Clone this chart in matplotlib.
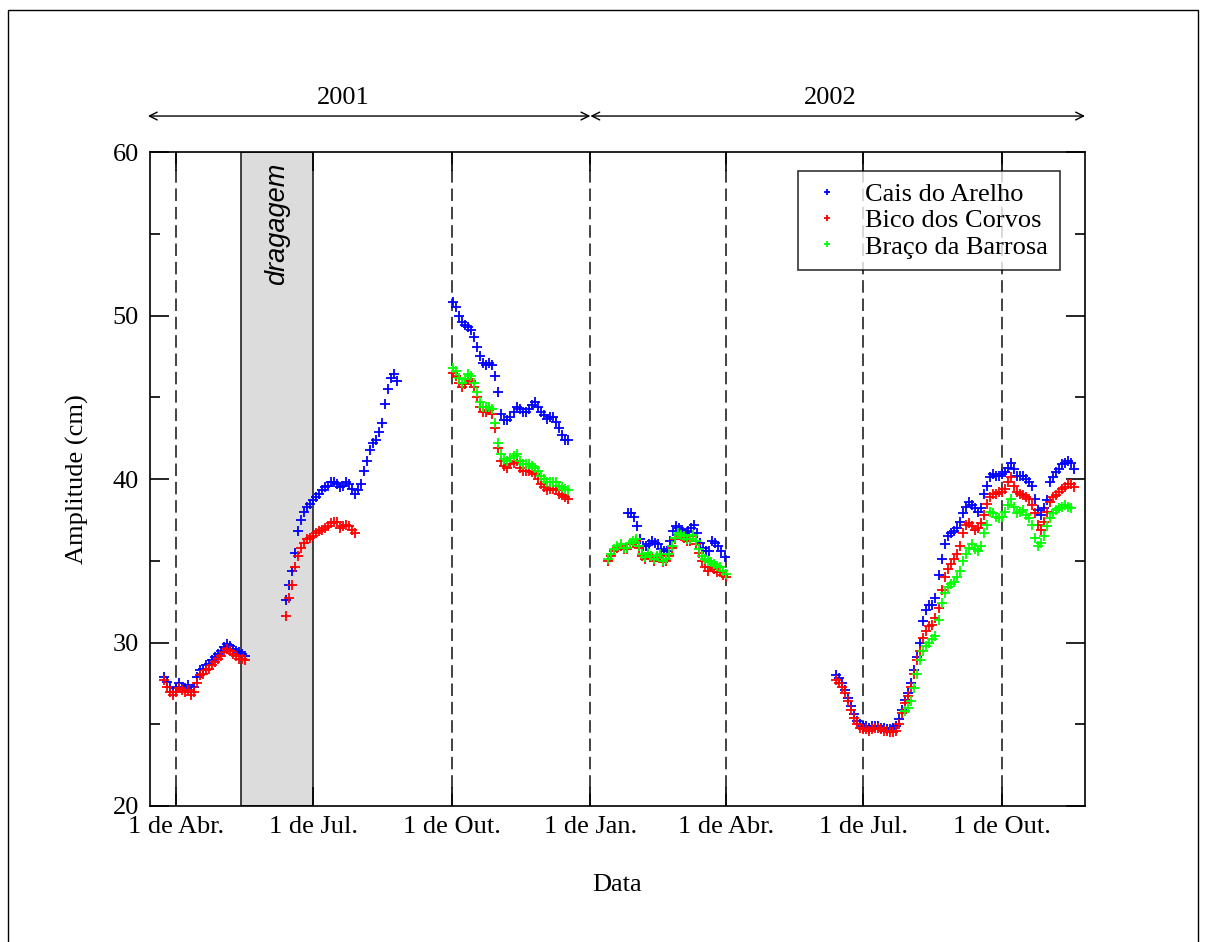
import numpy as np
import matplotlib
matplotlib.use("Agg")
import matplotlib.pyplot as plt
from matplotlib.patches import Rectangle

plt.rcParams['font.family'] = ['Liberation Serif', 'DejaVu Serif']

# x axis: days counted from 1 April 2001
tick_days = [0, 91, 183, 275, 365, 456, 548]
tick_labels = ["1 de Abr.", "1 de Jul.", "1 de Out.", "1 de Jan.", "1 de Abr.", "1 de Jul.", "1 de Out."]
dredge_start, dredge_end = 43, 91
year_labels = ["2001", "2002"]

# ---- Cais do Arelho (blue) ----
blue_s1_start = -8
blue_s1 = [27.9, 27.6, 27.3, 27.0, 27.2, 27.5, 27.3, 27.2, 27.4, 27.0, 27.3, 27.9, 28.3, 28.4,
           28.6, 28.7, 28.9, 29.1, 29.3, 29.5, 29.7, 29.9, 29.8, 29.6, 29.5, 29.4, 29.3, 29.2]
blue_s2_start = 73
blue_s2 = [32.6, 33.5, 34.4, 35.5, 36.8, 37.5, 38.0, 38.3, 38.5, 38.7, 38.9, 39.1, 39.3, 39.5,
           39.6, 39.8, 39.8, 39.7, 39.5, 39.6, 39.8, 39.7, 39.4, 39.1, 39.3, 39.7, 40.5, 41.1,
           41.8, 42.2, 42.4, 42.9, 43.4, 44.6, 45.5, 46.2, 46.4, 46.0]
blue_s3_start = 184
blue_s3 = [50.8, 50.5, 50.0, 49.6, 49.4, 49.3, 49.1, 48.7, 48.1, 47.5, 47.1, 47.0, 47.1, 47.0,
           46.3, 45.3, 44.0, 43.6, 43.6, 43.8, 44.1, 44.4, 44.3, 44.1, 44.1, 44.3, 44.5, 44.7,
           44.4, 44.1, 43.9, 43.7, 43.8, 43.8, 43.5, 43.1, 42.7, 42.4, 42.4]
blue_s4_start = 300
blue_s4 = [37.9, 37.9, 37.7, 37.1, 36.3, 35.9, 35.9, 36.0, 36.2, 36.1, 36.0, 35.7, 35.6, 35.6,
           36.2, 36.8, 37.1, 37.0, 36.9, 36.7, 36.8, 37.0, 37.2, 36.7, 36.1, 35.8, 35.6, 35.6,
           36.2, 36.1, 35.9, 35.6, 35.2]
blue_s5_start = 438
blue_s5 = [28.0, 27.8, 27.5, 27.1, 26.6, 26.1, 25.6, 25.2, 25.0, 24.9, 24.9, 24.8, 24.9, 24.9,
           24.9, 24.8, 24.8, 24.7, 24.7, 24.8, 24.9, 25.3, 25.9, 26.5, 26.9, 27.5, 28.3, 29.1,
           30.0, 31.3, 32.0, 32.3, 32.3, 32.7, 34.1, 35.1, 36.0, 36.5, 36.7, 36.8, 37.0, 37.4,
           37.9, 38.3, 38.6, 38.4, 38.2, 38.0, 38.2, 39.1, 39.6, 40.1, 40.3, 40.2, 40.2, 40.3,
           40.4, 40.7, 41.0, 40.6, 40.2, 40.2, 40.2, 40.0, 39.8, 39.6, 38.8, 38.1, 37.8, 38.2,
           38.7, 39.8, 40.1, 40.4, 40.6, 40.9, 41.0, 41.1, 41.0, 40.6]

# ---- Bico dos Corvos (red) ----
red_s1_start = -8
red_s1 = [27.7, 27.3, 27.0, 26.8, 27.0, 27.2, 27.1, 27.0, 27.1, 26.8, 27.0, 27.5, 28.0, 28.1,
          28.3, 28.4, 28.6, 28.8, 29.0, 29.2, 29.4, 29.6, 29.5, 29.3, 29.2, 29.0, 29.0, 28.9]
red_s2_start = 73
red_s2 = [31.6, 32.7, 33.5, 34.6, 35.3, 35.8, 36.1, 36.3, 36.4, 36.5, 36.7, 36.8, 36.9, 37.0,
          37.1, 37.3, 37.4, 37.4, 37.0, 37.1, 37.2, 37.1, 36.9, 36.7]
red_s3_start = 184
red_s3 = [46.5, 46.3, 45.9, 45.6, 45.8, 46.1, 46.0, 45.6, 45.0, 44.4, 44.1, 44.1, 44.2, 44.0,
          43.1, 41.9, 41.1, 40.8, 40.7, 40.9, 41.0, 41.1, 40.7, 40.5, 40.5, 40.5, 40.4, 40.3,
          40.0, 39.7, 39.5, 39.3, 39.4, 39.4, 39.3, 39.1, 39.0, 38.9, 38.8]
red_s4_start = 287
red_s4 = [35.0, 35.3, 35.6, 35.8, 35.9, 35.7, 35.7, 36.0, 36.1, 36.2, 35.8, 35.3, 35.1, 35.4,
          35.2, 35.0, 35.2, 35.3, 34.9, 35.0, 35.3, 35.8, 36.3, 36.6, 36.5, 36.4, 36.2, 36.2,
          36.5, 36.0, 35.5, 35.0, 34.6, 34.4, 34.6, 34.5, 34.3, 34.3, 34.1, 34.0]
red_s5_start = 438
red_s5 = [27.7, 27.5, 27.3, 26.9, 26.4, 25.9, 25.4, 25.0, 24.8, 24.7, 24.7, 24.6, 24.7, 24.8,
          24.8, 24.7, 24.6, 24.6, 24.5, 24.5, 24.6, 25.0, 25.7, 26.3, 26.7, 27.3, 28.1, 28.9,
          29.5, 30.3, 30.7, 31.0, 31.1, 31.5, 32.1, 33.2, 34.0, 34.5, 34.8, 35.1, 35.4, 35.9,
          36.7, 37.2, 37.3, 37.1, 36.9, 37.0, 37.3, 37.8, 38.5, 38.9, 39.1, 39.1, 39.2, 39.2,
          39.4, 39.8, 40.1, 39.6, 39.2, 39.1, 39.0, 38.9, 38.8, 38.4, 37.9, 37.2, 36.9, 37.4,
          38.0, 38.6, 38.9, 39.0, 39.2, 39.4, 39.5, 39.7, 39.7, 39.5]

# ---- Braco da Barrosa (green) ----
green_s3_start = 184
green_s3 = [46.8, 46.6, 46.2, 45.9, 46.1, 46.4, 46.3, 45.9, 45.3, 44.7, 44.4, 44.4, 44.4, 44.3,
            43.4, 42.2, 41.5, 41.2, 41.1, 41.3, 41.4, 41.5, 41.1, 40.9, 40.9, 40.9, 40.8, 40.7,
            40.5, 40.2, 40.0, 39.8, 39.8, 39.8, 39.8, 39.6, 39.5, 39.4, 39.3]
green_s4_start = 287
green_s4 = [35.1, 35.4, 35.7, 35.9, 36.0, 35.8, 35.8, 36.1, 36.2, 36.3, 35.9, 35.4, 35.2, 35.5,
            35.3, 35.1, 35.3, 35.4, 35.0, 35.1, 35.4, 35.9, 36.4, 36.7, 36.6, 36.5, 36.3, 36.3,
            36.6, 36.2, 35.7, 35.3, 35.1, 35.0, 34.9, 34.8, 34.7, 34.6, 34.4, 34.2]
green_s5_start = 484
green_s5 = [25.8, 26.0, 26.4, 27.2, 28.1, 28.9, 29.5, 29.8, 30.0, 30.2, 30.4, 31.4, 32.4, 33.0,
            33.4, 33.6, 33.7, 34.0, 34.4, 35.0, 35.4, 35.8, 36.0, 35.7, 35.6, 35.9, 36.7, 37.2,
            38.0, 37.9, 37.7, 37.6, 37.7, 38.0, 38.4, 38.8, 38.3, 37.9, 38.0, 38.1, 37.8, 37.6,
            37.2, 36.4, 35.9, 36.1, 36.5, 37.1, 37.6, 37.9, 38.1, 38.2, 38.3, 38.4, 38.3, 38.2]

STEP = 2  # sampling interval of the listed values (days)


def series(*segs):
    xs, ys = [], []
    for start, vals in segs:
        xs.append(start + STEP * np.arange(len(vals)))
        ys.append(np.asarray(vals, float))
    return np.concatenate(xs), np.concatenate(ys)


bx, by = series((blue_s1_start, blue_s1), (blue_s2_start, blue_s2), (blue_s3_start, blue_s3),
                (blue_s4_start, blue_s4), (blue_s5_start, blue_s5))
rx, ry = series((red_s1_start, red_s1), (red_s2_start, red_s2), (red_s3_start, red_s3),
                (red_s4_start, red_s4), (red_s5_start, red_s5))
gx, gy = series((green_s3_start, green_s3), (green_s4_start, green_s4), (green_s5_start, green_s5))

FS = 19

fig = plt.figure(figsize=(12.06, 9.42), dpi=100)
ax = fig.add_axes([150 / 1206, 1 - 806 / 942, 935 / 1206, 654 / 942])

ax.set_xlim(-17.2, 603.2)
ax.set_ylim(20, 60)

# dredging period
ax.add_patch(Rectangle((dredge_start, 20), dredge_end - dredge_start, 40,
                       facecolor='#dcdcdc', edgecolor='#222222', linewidth=1.2, zorder=1))
ax.text((dredge_start + dredge_end) / 2, 55.6, "dragagem", rotation=90, ha='center', va='center',
        family=['Liberation Sans', 'DejaVu Sans'], style='italic', fontsize=19.5, zorder=2)

for d in tick_days:
    if d == dredge_end:
        continue
    ax.axvline(d, color='#222222', linewidth=1.2, dashes=(7.5, 3.5), zorder=1.5)

kw = dict(linestyle='none', marker='+', markersize=7, markeredgewidth=1.3, zorder=3)
hb, = ax.plot(bx, by, color='#0000ff', label='Cais do Arelho', **kw)
hr, = ax.plot(rx, ry, color='#ff0000', label='Bico dos Corvos', **kw)
hg, = ax.plot(gx, gy, color='#00ff00', label='Braço da Barrosa', **kw)

ax.set_xticks(tick_days)
ax.set_xticklabels(tick_labels)
ax.set_yticks([20, 30, 40, 50, 60])
ax.set_yticks([25, 35, 45, 55], minor=True)
ax.tick_params(which='both', direction='in', top=True, right=True, labelsize=FS, width=1.2)
ax.tick_params(which='major', length=14)
ax.tick_params(which='minor', length=7)
ax.tick_params(axis='x', pad=7)
ax.tick_params(axis='y', pad=8)
for s in ax.spines.values():
    s.set_linewidth(1.2)

ax.set_xlabel("Data", fontsize=FS, labelpad=26)
ax.set_ylabel("Amplitude (cm)", fontsize=FS, labelpad=17)

leg = ax.legend(handles=[hb, hr, hg], loc='upper right', bbox_to_anchor=(0.973, 0.971),
                borderaxespad=0, fontsize=FS, frameon=True, fancybox=False, markerscale=0.6,
                handlelength=1.3, handletextpad=0.8, borderpad=0.45, labelspacing=0.1)
leg.get_frame().set_edgecolor('black')
leg.get_frame().set_linewidth(1.2)

# year arrows above the axes
arrow_y = 62.2
ax.annotate('', xy=(-18.6, arrow_y), xytext=(275, arrow_y), annotation_clip=False,
            arrowprops=dict(arrowstyle='<->', color='black', lw=1.0, shrinkA=0, shrinkB=0,
                            mutation_scale=14))
ax.annotate('', xy=(275, arrow_y), xytext=(603.2, arrow_y), annotation_clip=False,
            arrowprops=dict(arrowstyle='<->', color='black', lw=1.0, shrinkA=0, shrinkB=0,
                            mutation_scale=14))
ax.text(111, 63.3, year_labels[0], ha='center', va='center', fontsize=FS, clip_on=False)
ax.text(434, 63.3, year_labels[1], ha='center', va='center', fontsize=FS, clip_on=False)

# outer frame of the figure
fig.patches.append(Rectangle((8 / 1206, -0.02), 1190 / 1206, 1.02 - 10 / 942,
                             transform=fig.transFigure, fill=False, edgecolor='black',
                             linewidth=1.0))

fig.savefig("out.png", dpi=100)
